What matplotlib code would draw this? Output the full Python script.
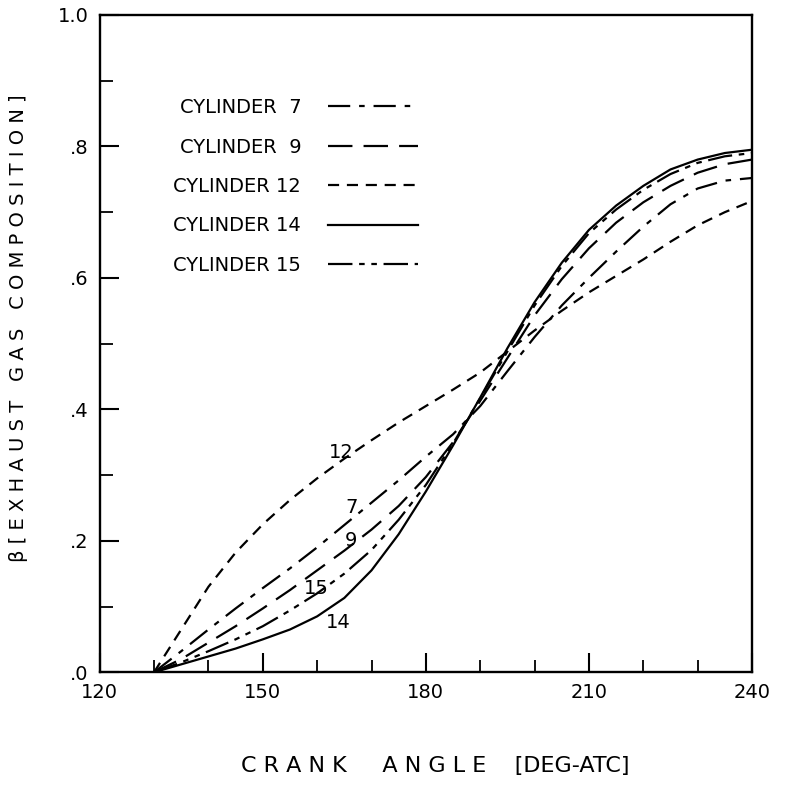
import matplotlib.pyplot as plt
from matplotlib.ticker import MultipleLocator

# crank angle, deg ATC
angle = [130, 135, 140, 145, 150, 155, 160, 165, 170, 175, 180, 185,
         190, 195, 200, 205, 210, 215, 220, 225, 230, 235, 240]

# beta (exhaust gas composition) per cylinder
cyl7 = [0, 0.032, 0.065, 0.097, 0.128, 0.158, 0.19, 0.224, 0.258, 0.292, 0.328, 0.362,
        0.405, 0.458, 0.51, 0.558, 0.6, 0.64, 0.678, 0.712, 0.736, 0.748, 0.752]
cyl9 = [0, 0.02, 0.045, 0.07, 0.097, 0.125, 0.155, 0.185, 0.217, 0.253, 0.297, 0.35,
        0.413, 0.478, 0.543, 0.598, 0.645, 0.684, 0.715, 0.74, 0.76, 0.773, 0.78]
cyl12 = [0, 0.065, 0.13, 0.182, 0.225, 0.262, 0.295, 0.325, 0.353, 0.38, 0.405, 0.43,
         0.456, 0.488, 0.52, 0.55, 0.578, 0.603, 0.628, 0.655, 0.68, 0.7, 0.717]
cyl14 = [0, 0.012, 0.024, 0.036, 0.05, 0.065, 0.085, 0.113, 0.155, 0.21, 0.275, 0.345,
         0.418, 0.493, 0.563, 0.623, 0.673, 0.71, 0.74, 0.765, 0.78, 0.79, 0.795]
cyl15 = [0, 0.015, 0.032, 0.05, 0.07, 0.094, 0.12, 0.15, 0.186, 0.232, 0.285, 0.348,
         0.417, 0.488, 0.558, 0.618, 0.668, 0.704, 0.734, 0.758, 0.775, 0.785, 0.79]

x_ticks = [120, 150, 180, 210, 240]
y_ticks = [0, 0.2, 0.4, 0.6, 0.8, 1.0]
y_labels = ['.0', '.2', '.4', '.6', '.8', '1.0']

# curve tags written on the plot: (text, angle, beta)
tags = [('12', 164.5, 0.335), ('7', 166.3, 0.25), ('9', 166.2, 0.2),
        ('15', 159.8, 0.128), ('14', 163.8, 0.075)]

plt.rcParams['font.family'] = ['DejaVu Sans']
fig = plt.figure(figsize=(7.85, 7.89), dpi=100)
ax = fig.add_axes([0.127, 0.148, 0.831, 0.833])

lw = 1.6
ax.plot(angle, cyl7, color='black', lw=lw, linestyle=(0, (10, 4, 2.5, 4)), label='CYLINDER  7')
ax.plot(angle, cyl9, color='black', lw=lw, linestyle=(0, (11, 5)), label='CYLINDER  9')
ax.plot(angle, cyl12, color='black', lw=lw, linestyle=(0, (5, 3.5)), label='CYLINDER 12')
ax.plot(angle, cyl14, color='black', lw=lw, linestyle='-', label='CYLINDER 14')
ax.plot(angle, cyl15, color='black', lw=lw, linestyle=(0, (11, 3, 2.5, 3, 2.5, 3)), label='CYLINDER 15')

for t, xa, yb in tags:
    ax.text(xa, yb, t, fontsize=14, ha='center', va='center')

ax.set_xlim(120, 240)
ax.set_ylim(0, 1.0)
ax.set_xticks(x_ticks)
ax.xaxis.set_minor_locator(MultipleLocator(10))
ax.set_yticks(y_ticks)
ax.set_yticklabels(y_labels)
ax.yaxis.set_minor_locator(MultipleLocator(0.1))
ax.tick_params(which='major', direction='in', length=14, width=1.5, labelsize=14, pad=8)
ax.tick_params(which='minor', direction='in', length=9, width=1.3)
for s in ax.spines.values():
    s.set_linewidth(1.7)

ax.set_xlabel('C R A N K     A N G L E    [DEG-ATC]', fontsize=16)
ax.xaxis.set_label_coords(0.515, -0.127)
ax.set_ylabel('β [ E X H A U S T   G A S   C O M P O S I T I O N ]', fontsize=14)
ax.yaxis.set_label_coords(-0.11, 0.523)

ax.legend(loc='upper left', bbox_to_anchor=(0.086, 0.9), frameon=False,
          markerfirst=False, handlelength=4.6, handletextpad=1.4,
          labelspacing=1.05, fontsize=14)

fig.savefig('out.png', dpi=100)
